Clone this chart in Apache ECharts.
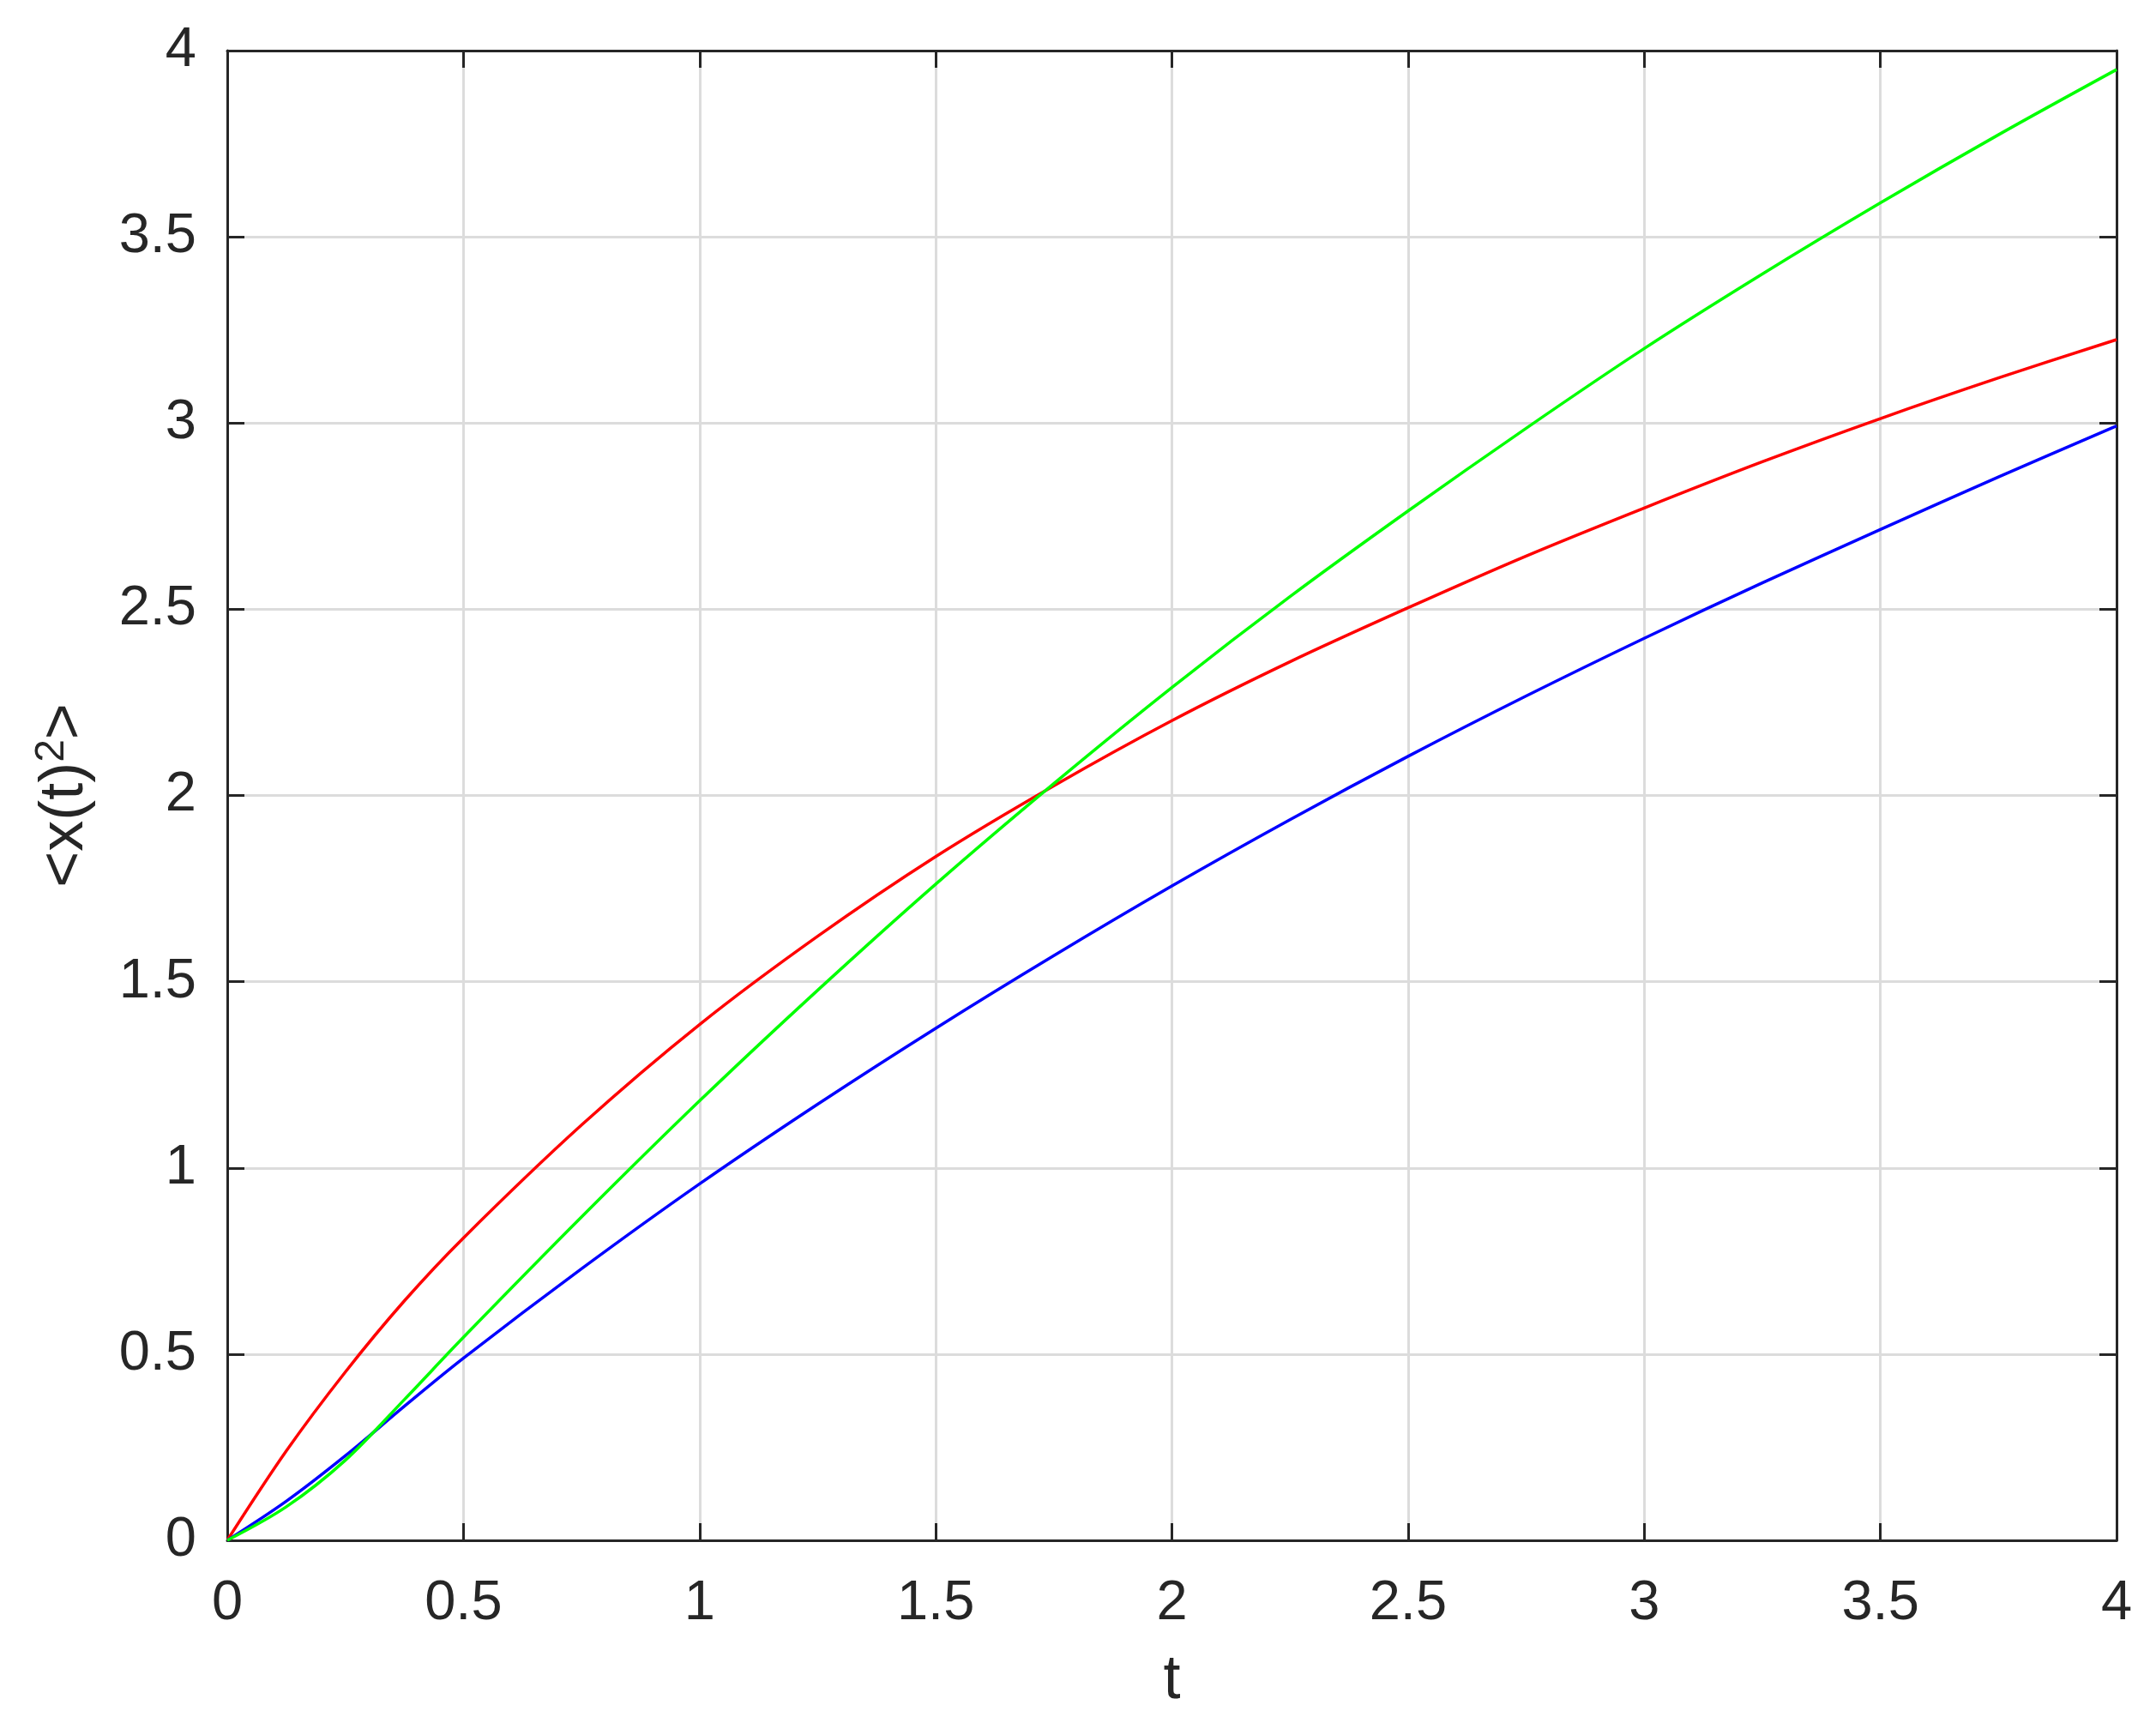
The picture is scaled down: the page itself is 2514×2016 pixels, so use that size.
<!DOCTYPE html>
<html>
<head>
<meta charset="utf-8">
<style>
html,body{margin:0;padding:0;background:#fff;}
#chart{width:2514px;height:2016px;}
</style>
<script src="https://cdn.jsdelivr.net/npm/echarts@6/dist/echarts.min.js"></script>
</head>
<body>
<div id="chart"></div>
<script>
const tVals = [0, 0.125, 0.25, 0.375, 0.5, 0.75, 1, 1.25, 1.5, 1.75, 2, 2.25, 2.5, 2.75, 3, 3.25, 3.5, 3.75, 4];
const redVals = [0, 0.24, 0.452, 0.643, 0.812, 1.115, 1.385, 1.622, 1.836, 2.026, 2.201, 2.359, 2.504, 2.643, 2.772, 2.896, 3.012, 3.121, 3.224];
const greenVals = [0, 0.09, 0.215, 0.378, 0.545, 0.868, 1.18, 1.477, 1.762, 2.032, 2.29, 2.534, 2.764, 2.986, 3.20, 3.40, 3.591, 3.774, 3.949];
const blueVals = [0, 0.105, 0.227, 0.36, 0.489, 0.729, 0.957, 1.171, 1.375, 1.57, 1.757, 1.935, 2.105, 2.267, 2.422, 2.571, 2.714, 2.855, 2.992];
const xTickLabels = ['0', '0.5', '1', '1.5', '2', '2.5', '3', '3.5', '4'];
const yTickLabels = ['0', '0.5', '1', '1.5', '2', '2.5', '3', '3.5', '4'];

const pair = (xs, ys) => xs.map((x, i) => [x, ys[i]]);
const FONT = '"Liberation Sans", Arial, Helvetica, sans-serif';
const AX = '#262626';

const baseAxis = {
  type: 'value', min: 0, max: 4, interval: 0.5,
  axisLine: {show: true, onZero: false, lineStyle: {color: AX, width: 3}},
  axisTick: {show: true, inside: true, length: 20, lineStyle: {color: AX, width: 3}},
  splitLine: {show: false}
};

const chart = echarts.init(document.getElementById('chart'));
chart.setOption({
  animation: false,
  backgroundColor: '#fff',
  grid: {left: 265, right: 46, top: 59, bottom: 220, containLabel: false},
  xAxis: [
    Object.assign({}, baseAxis, {
      position: 'bottom',
      name: 't', nameLocation: 'middle', nameGap: 128,
      nameTextStyle: {fontFamily: FONT, fontSize: 72, color: AX},
      axisLabel: {show: true, margin: 42, fontFamily: FONT, fontSize: 65, color: AX,
        formatter: v => xTickLabels[Math.round(v / 0.5)]},
      splitLine: {show: true, lineStyle: {color: '#dcdcdc', width: 3}}
    }),
    Object.assign({}, baseAxis, {position: 'top', axisLabel: {show: false}})
  ],
  yAxis: [
    Object.assign({}, baseAxis, {
      position: 'left',
      name: '<x(t){sup|2}>', nameLocation: 'middle', nameGap: 150, nameRotate: 90,
      nameTextStyle: {fontFamily: FONT, fontSize: 72, color: AX,
        rich: {sup: {fontFamily: FONT, fontSize: 48, color: AX, verticalAlign: 'top', padding: [0, 0, 30, 0]}}},
      axisLabel: {show: true, margin: 36, fontFamily: FONT, fontSize: 65, color: AX,
        formatter: v => yTickLabels[Math.round(v / 0.5)]},
      splitLine: {show: true, lineStyle: {color: '#dcdcdc', width: 3}}
    }),
    Object.assign({}, baseAxis, {position: 'right', axisLabel: {show: false}})
  ],
  series: [
    {type: 'line', name: 'red', data: pair(tVals, redVals), smooth: 0.33, showSymbol: false,
     lineStyle: {color: '#ff0000', width: 3.5}, z: 3},
    {type: 'line', name: 'blue', data: pair(tVals, blueVals), smooth: 0.33, showSymbol: false,
     lineStyle: {color: '#0000ff', width: 3.5}, z: 4},
    {type: 'line', name: 'green', data: pair(tVals, greenVals), smooth: 0.33, showSymbol: false,
     lineStyle: {color: '#00ff00', width: 3.5}, z: 5}
  ]
});
</script>
</body>
</html>
